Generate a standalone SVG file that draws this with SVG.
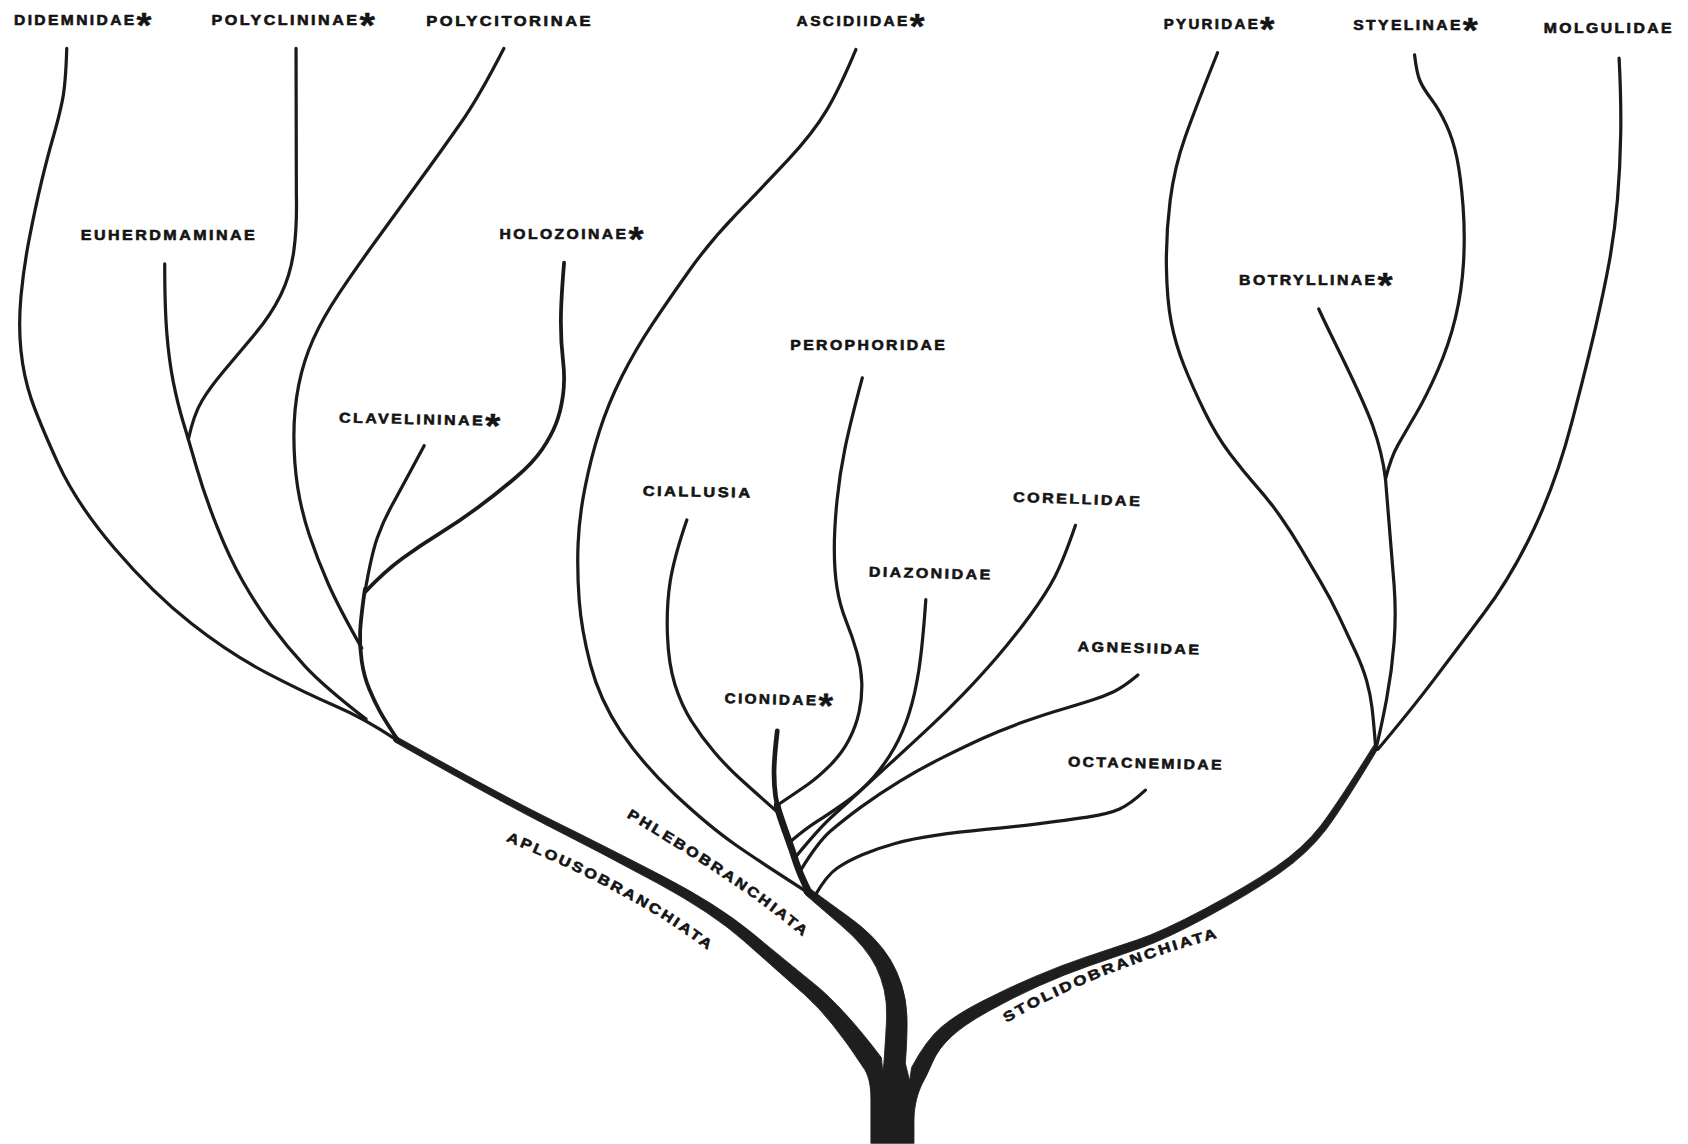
<svg xmlns="http://www.w3.org/2000/svg" width="1688" height="1144" viewBox="0 0 1688 1144">
<defs>
<style>
.lbl{font-family:"Liberation Sans",Arial,sans-serif;font-weight:bold;font-size:13px;fill:#141414;stroke:#141414;stroke-width:0.55px;stroke-linejoin:round;letter-spacing:2px}
.ast{font-size:32px;stroke-width:0.4px}
.br{fill:none;stroke:#1a1a1a;stroke-width:3;stroke-linecap:round;stroke-linejoin:round}
.w3{stroke-width:3.5}
.w4{stroke-width:4.4}
.w6{stroke-width:6.4}
.trunk{fill:#1e1e1e;stroke:#1e1e1e;stroke-width:0.8;stroke-linejoin:round}
</style>
<path id="pApl" d="M470,781 C530,806 600,838 662,886"/>
<path id="pPhl" d="M582,759 C630,788 700,830 748,872"/>
<path id="pSto" d="M935,950 C990,918 1060,890 1135,870"/>
</defs>
<rect width="1688" height="1144" fill="#ffffff"/>
<g transform="scale(1.07653)">
<g id="connectors">
<path id="trunk" class="trunk" d="M809,1062 L809,1022 C809,1008 807,1000 803.2,993.5 Q772.5,946.1 747.3,923.9 Q722.1,901.6 691.8,874.7 Q661.5,847.8 610,820 Q558.4,792.1 510.5,767.9 Q462.6,743.6 366.8,689.2 A2.5,2.5 0 0 1 369.2,684.8 Q465.4,738.4 513.5,762.2 Q561.6,785.9 614.1,813.1 Q666.5,840.2 698.2,866.3 Q729.9,892.4 756.7,914.2 Q783.5,935.9 818.8,982.5 L820,996 L821,988 Q823,960 823.6,945.8 Q824.1,931.5 821.4,919.8 Q818.6,908 814,898.6 Q809.3,889.1 801.2,879.3 Q793,869.4 780.1,858.5 Q767.2,847.5 747.8,830.7 A3.5,3.5 0 0 1 752.2,825.3 Q772.8,840.5 786.9,850.6 Q801,860.6 810.9,870.8 Q820.7,880.9 827.1,891.5 Q833.4,902 837.7,915.3 Q841.9,928.5 842.5,944.3 Q843,960 841,988 L845,1004 L846.8,991.5 Q860.5,965.7 874.6,953.9 Q888.7,942 912.8,929.8 Q936.8,917.5 961.1,907.2 Q985.4,896.8 1009,888.9 Q1032.6,881 1056,873.2 Q1079.3,865.4 1119.2,844.2 Q1159.1,822.9 1185,805.3 Q1210.8,787.6 1226.7,767 Q1242.5,746.3 1275.9,692.7 A2.5,2.5 0 0 1 1280.1,695.3 Q1247.5,749.7 1231.4,771.1 Q1215.2,792.4 1189,810.8 Q1162.9,829.1 1122.8,850.9 Q1082.7,872.6 1059,880.8 Q1035.4,889 1012,897.1 Q988.6,905.2 964.9,915.9 Q941.2,926.5 918.3,939.3 Q895.3,952 883.4,963.2 Q871.5,974.3 866.4,986.4 Q861.2,998.5 856,1008 C851,1019 849,1030 849,1042 L849,1062 Z"/>
<!-- Aplousobranchiata -->
<path class="br" d="M62,45 Q61,78 58,93 Q55,108 49.5,127 Q44,146 38.5,169 Q33,192 27.5,220 Q22,248 19.5,275 Q17,302 19.5,326 Q22,350 29,370.5 Q36,391 53.5,429.5 Q71,468 106.5,509.5 Q142,551 177.5,579 Q213,607 248.5,625.5 Q284,644 311,655.5 Q338,667 368,687"/>
<path class="br" d="M153,245 Q153,285 155,310 Q157,335 161,355 Q165,375 170,391.5 Q175,408 182.5,434 Q190,460 201.5,489 Q213,518 225.5,540 Q238,562 252,581 Q266,600 283,618.5 Q300,637 340,668"/>
<path class="br" d="M275,45 L275.3,180 Q276,210 273,232.5 Q270,255 261,273.5 Q252,292 237,310 Q222,328 208.5,344 Q195,360 187.5,372.5 Q180,385 175,408"/>
<path class="br" d="M468,45 Q445,90 427.5,115 Q410,140 390,167.5 Q370,195 350,222.5 Q330,250 315,272.5 Q300,295 291,315 Q282,335 277.5,357.5 Q273,380 273,405 Q273,430 276.5,452.5 Q280,475 287.5,497.5 Q295,520 305,542.5 Q315,565 336,602"/>
<path class="br" d="M394,414 Q372,455 364,469.5 Q356,484 350.5,499.5 Q345,515 339,550"/>
<path class="br w3" d="M524,244 Q521,280 521,299 Q521,318 523,335 Q525,352 523,367 Q521,382 516.5,393.5 Q512,405 503.5,417.5 Q495,430 478.5,444 Q462,458 444.5,471 Q427,484 408.5,495.5 Q390,507 374,518.5 Q358,530 339,550"/>
<path class="br w3" d="M339,547 Q335,575 334.5,587.5 Q334,600 336,614 Q338,628 343,640 Q348,652 353,661 Q358,670 370,688"/>
<!-- Phlebobranchiata -->
<path class="br" d="M795,46 Q780,82 767.5,103 Q755,124 732,148.5 Q709,173 684,199 Q659,225 640.5,251 Q622,277 606,301 Q590,325 577.5,350 Q565,375 557,400 Q549,425 543.5,452.5 Q538,480 537,505 Q536,530 538,557.5 Q540,585 548.5,617.5 Q557,650 577,680 Q597,710 627.5,738.5 Q658,767 681.5,783.5 Q705,800 752,830"/>
<path class="br" d="M638,483 Q626,518 622.5,540.5 Q619,563 620,590 Q621,617 627,636 Q633,655 642.5,670 Q652,685 663.5,698.5 Q675,712 686.5,722.5 Q698,733 724,756"/>
<path class="br w4" d="M722,679 Q719,705 719,717.5 Q719,730 720.5,740 Q722,750 725,759"/>
<path class="br w6" d="M722,748 Q722,750 725,759 Q728,768 732,779 Q736,790 739.5,801 Q743,812 752,830"/>
<path class="br" d="M801,351 Q790,392 785,416 Q780,440 777.5,465 Q775,490 775,510 Q775,530 777.5,546 Q780,562 786,577 Q792,592 796,606 Q800,620 800.5,634 Q801,648 798,661.5 Q795,675 788.5,687.5 Q782,700 771,711 Q760,722 750,729 Q740,736 722,748"/>
<path class="br" d="M860,557 Q857,600 853.5,622.5 Q850,645 844.5,662.5 Q839,680 830.5,695 Q822,710 811,722.5 Q800,735 785,745.5 Q770,756 759,763 Q748,770 734,782"/>
<path class="br" d="M999,488 Q988,520 980,535.5 Q972,551 957,571.5 Q942,592 926,610.5 Q910,629 895,644.5 Q880,660 864,675 Q848,690 831.5,705 Q815,720 801,733 Q787,746 774.5,757 Q762,768 739,796"/>
<path class="br" d="M1057,627 Q1044,638 1034.5,642.5 Q1025,647 1012.5,651 Q1000,655 986,659 Q972,663 951,670.5 Q930,678 912.5,686 Q895,694 875,704 Q855,714 836,725.5 Q817,737 800,749.5 Q783,762 771.5,772 Q760,782 744,808"/>
<path class="br" d="M1064,734 Q1050,747 1040,751.5 Q1030,756 1010,759 Q990,762 965.5,765 Q941,768 915.5,770.5 Q890,773 869,776 Q848,779 831.5,783.5 Q815,788 801,794 Q787,800 777.5,806.5 Q768,813 757,832"/>
<!-- Stolidobranchiata -->
<path class="br" d="M1131,49 Q1111,99 1101,127 Q1091,155 1087,186 Q1083,217 1083.5,248 Q1084,279 1088,299.5 Q1092,320 1100,340 Q1108,360 1119,382.5 Q1130,405 1142.5,421.5 Q1155,438 1167,451.5 Q1179,465 1189.5,480 Q1200,495 1208.5,509.5 Q1217,524 1226.5,540 Q1236,556 1244,573 Q1252,590 1259,605 Q1266,620 1269.5,632.5 Q1273,645 1274.5,657.5 Q1276,670 1278,696"/>
<path class="br" d="M1314,51 Q1316,68 1319,75 Q1322,82 1329.5,92 Q1337,102 1343.5,116 Q1350,130 1353.5,147.5 Q1357,165 1359,191 Q1361,217 1359.5,243.5 Q1358,270 1352,295 Q1346,320 1335.5,344 Q1325,368 1315,385 Q1305,402 1298.5,413.5 Q1292,425 1287,445"/>
<path class="br" d="M1225,287 C1240,320 1262,360 1275,395 C1281,412 1285,428 1287,445"/>
<path class="br" d="M1287,445 Q1293,517 1295,543.5 Q1297,570 1295,596.5 Q1293,623 1288,649.5 Q1283,676 1278,696"/>
<path class="br" d="M1504,54 Q1506,93 1505.5,124 Q1505,155 1502.5,185 Q1500,215 1495,242.5 Q1490,270 1482,304.5 Q1474,339 1460,392.5 Q1446,446 1425.5,490 Q1405,534 1378.5,569.5 Q1352,605 1331.5,632 Q1311,659 1280,696"/>
</g>
<g id="n-didemnidae"><text class="lbl" x="13" y="23.5" textLength="130" lengthAdjust="spacingAndGlyphs">DIDEMNIDAE<tspan class="ast" dy="11">*</tspan></text></g>
<g id="n-polyclininae"><text class="lbl" x="196.5" y="23.5" textLength="154" lengthAdjust="spacingAndGlyphs">POLYCLININAE<tspan class="ast" dy="11">*</tspan></text></g>
<g id="n-polycitorinae"><text class="lbl" x="396" y="24" textLength="155" lengthAdjust="spacingAndGlyphs">POLYCITORINAE</text></g>
<g id="n-ascidiidae"><text class="lbl" x="740" y="24.5" textLength="121" lengthAdjust="spacingAndGlyphs">ASCIDIIDAE<tspan class="ast" dy="11">*</tspan></text></g>
<g id="n-pyuridae"><text class="lbl" x="1081" y="27" textLength="105" lengthAdjust="spacingAndGlyphs">PYURIDAE<tspan class="ast" dy="11">*</tspan></text></g>
<g id="n-styelinae"><text class="lbl" x="1257" y="28" textLength="118" lengthAdjust="spacingAndGlyphs">STYELINAE<tspan class="ast" dy="11">*</tspan></text></g>
<g id="n-molgulidae"><text class="lbl" x="1434" y="30.5" textLength="121" lengthAdjust="spacingAndGlyphs">MOLGULIDAE</text></g>
<g id="n-euherdmaminae"><text class="lbl" x="75" y="222.5" textLength="164" lengthAdjust="spacingAndGlyphs">EUHERDMAMINAE</text></g>
<g id="n-holozoinae"><text class="lbl" x="464" y="222" textLength="136" lengthAdjust="spacingAndGlyphs">HOLOZOINAE<tspan class="ast" dy="11">*</tspan></text></g>
<g id="n-botryllinae"><text class="lbl" x="1151" y="265" textLength="145" lengthAdjust="spacingAndGlyphs">BOTRYLLINAE<tspan class="ast" dy="11">*</tspan></text></g>
<g id="n-perophoridae"><text class="lbl" x="734" y="325" textLength="146" lengthAdjust="spacingAndGlyphs">PEROPHORIDAE</text></g>
<g id="n-clavelininae"><text class="lbl" x="315" y="392.5" textLength="152" lengthAdjust="spacingAndGlyphs" transform="rotate(1.2 315 392.5)">CLAVELININAE<tspan class="ast" dy="11">*</tspan></text></g>
<g id="n-ciallusia"><text class="lbl" x="597" y="460.5" textLength="102" lengthAdjust="spacingAndGlyphs" transform="rotate(1 597 460.5)">CIALLUSIA</text></g>
<g id="n-corellidae"><text class="lbl" x="941" y="466" textLength="120" lengthAdjust="spacingAndGlyphs" transform="rotate(2 941 466)">CORELLIDAE</text></g>
<g id="n-diazonidae"><text class="lbl" x="807" y="535.5" textLength="115" lengthAdjust="spacingAndGlyphs" transform="rotate(1.5 807 535.5)">DIAZONIDAE</text></g>
<g id="n-agnesiidae"><text class="lbl" x="1001" y="605" textLength="115" lengthAdjust="spacingAndGlyphs" transform="rotate(1.5 1001 605)">AGNESIIDAE</text></g>
<g id="n-cionidae"><text class="lbl" x="673" y="653" textLength="103" lengthAdjust="spacingAndGlyphs" transform="rotate(1.5 673 653)">CIONIDAE<tspan class="ast" dy="11">*</tspan></text></g>
<g id="n-octacnemidae"><text class="lbl" x="992" y="712" textLength="145" lengthAdjust="spacingAndGlyphs" transform="rotate(1.2 992 712)">OCTACNEMIDAE</text></g>
<g id="n-aplousobranchiata"><text class="lbl"><textPath href="#pApl" textLength="216" lengthAdjust="spacingAndGlyphs">APLOUSOBRANCHIATA</textPath></text></g>
<g id="n-phlebobranchiata"><text class="lbl"><textPath href="#pPhl" textLength="200" lengthAdjust="spacingAndGlyphs">PHLEBOBRANCHIATA</textPath></text></g>
<g id="n-stolidobranchiata"><text class="lbl"><textPath href="#pSto" textLength="214" lengthAdjust="spacingAndGlyphs">STOLIDOBRANCHIATA</textPath></text></g>
</g>
</svg>
